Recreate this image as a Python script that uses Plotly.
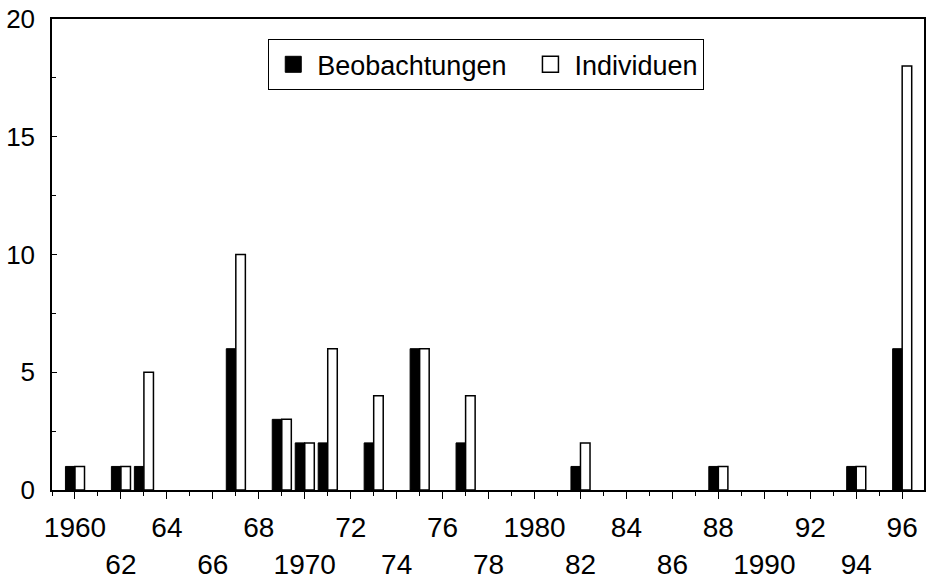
import plotly.graph_objects as go

years = [1960, 1962, 1963, 1967, 1969, 1970, 1971, 1973, 1975, 1977, 1982, 1988, 1994, 1996]
beobachtungen = [1, 1, 1, 6, 3, 2, 2, 2, 6, 2, 1, 1, 1, 6]
individuen = [1, 1, 5, 10, 3, 2, 6, 4, 6, 4, 2, 1, 1, 18]

tick_years = list(range(1960, 1997, 2))
tick_labels = ["1960", "<br>62", "64", "<br>66", "68", "<br>1970", "72", "<br>74", "76", "<br>78",
               "1980", "<br>82", "84", "<br>86", "88", "<br>1990", "92", "<br>94", "96"]
y_ticks = [0, 5, 10, 15, 20]

FAM = "Liberation Sans, Arial, sans-serif"

fig = go.Figure()
fig.add_trace(go.Bar(x=years, y=beobachtungen, name="Beobachtungen", showlegend=False,
                     marker=dict(color="black", line=dict(color="black", width=1))))
fig.add_trace(go.Bar(x=years, y=individuen, name="Individuen", showlegend=False,
                     marker=dict(color="white", line=dict(color="black", width=1.5))))
# legend entries with larger square swatches
fig.add_trace(go.Scatter(x=[None], y=[None], mode="markers", name="Beobachtungen\u00a0\u00a0",
                         marker=dict(symbol="square", size=22, color="black",
                                     line=dict(color="black", width=1))))
fig.add_trace(go.Scatter(x=[None], y=[None], mode="markers", name="Individuen",
                         marker=dict(symbol="square", size=22, color="white",
                                     line=dict(color="black", width=1.5))))

fig.update_layout(
    width=926, height=580,
    margin=dict(l=52, r=2, t=19, b=90, autoexpand=False),
    paper_bgcolor="white", plot_bgcolor="white",
    barmode="group", bargap=0.17, bargroupgap=0,
    font=dict(family=FAM, size=28, color="black"),
    legend=dict(orientation="h", x=0.498, xanchor="center", y=0.957, yanchor="top",
                bordercolor="black", borderwidth=1, bgcolor="white",
                font=dict(family=FAM, size=27, color="black"),
                itemwidth=38, tracegroupgap=0),
    showlegend=True,
)
fig.update_xaxes(range=[1959, 1996.95], tickvals=tick_years, ticktext=tick_labels,
                 ticks="outside", ticklen=7, tickcolor="black", automargin=False,
                 ticklabelstandoff=5,
                 minor=dict(dtick=1, tick0=1959, ticks="outside", ticklen=4, tickcolor="black"),
                 showline=True, linecolor="black", linewidth=1.5, mirror=True,
                 showgrid=False, zeroline=False, tickangle=0)
fig.update_yaxes(range=[0, 20], tickvals=y_ticks, automargin=False,
                 tickfont=dict(family=FAM, size=26, color="black"),
                 ticks="inside", ticklen=5, tickcolor="black", ticklabelstandoff=10,
                 minor=dict(dtick=2.5, ticks="inside", ticklen=4, tickcolor="black"),
                 showline=True, linecolor="black", linewidth=1.5, mirror=True,
                 showgrid=False, zeroline=False)

fig.write_html("out.html", config={"displayModeBar": False},
               post_script="document.body.style.margin='0';document.body.style.overflow='hidden';")
